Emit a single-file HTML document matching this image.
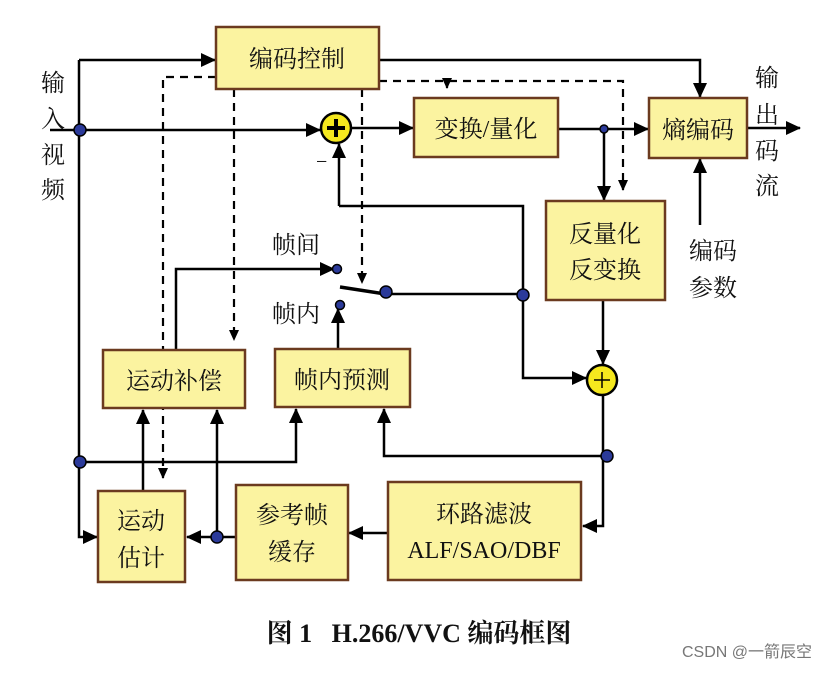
<!DOCTYPE html>
<html><head><meta charset="utf-8"><style>
html,body{margin:0;padding:0;background:#fff;}
svg text{font-family:"Liberation Serif","Noto Serif CJK SC","Noto Sans CJK SC",serif;fill:#111;}
</style></head><body>
<svg width="828" height="670" viewBox="0 0 828 670" xmlns="http://www.w3.org/2000/svg">
<defs>
<marker id="a" markerWidth="16" markerHeight="16" refX="14" refY="7" orient="auto" markerUnits="userSpaceOnUse">
<path d="M0,0 L15,7 L0,14 Z" fill="#000"/></marker>
<marker id="s" markerWidth="12" markerHeight="12" refX="10" refY="5" orient="auto" markerUnits="userSpaceOnUse">
<path d="M0,0 L11,5 L0,10 Z" fill="#000"/></marker>
</defs>
<g stroke="#000" stroke-width="2.5" fill="none">
<!-- dashed -->
<g stroke-dasharray="8,6" stroke-width="2.2">
<path d="M216,77 H163 V478" marker-end="url(#s)"/>
<path d="M234,89 V340" marker-end="url(#s)"/>
<path d="M362,89 V283" marker-end="url(#s)"/>
<path d="M379,81 H623 V190" marker-end="url(#s)"/>
<path d="M447,81 V88" stroke-dasharray="none" marker-end="url(#s)"/>
</g>
<!-- solid -->
<path d="M79,60 V537 H97" marker-end="url(#a)"/>
<path d="M79,60 H215" marker-end="url(#a)"/>
<path d="M50,130 H320" marker-end="url(#a)"/>
<path d="M351,128 H413" marker-end="url(#a)"/>
<path d="M379,60 H700 V97" marker-end="url(#a)"/>
<path d="M558,129 H648" marker-end="url(#a)"/>
<path d="M604,129 V200" marker-end="url(#a)"/>
<path d="M748,128 H800" marker-end="url(#a)"/>
<path d="M700,225 V159" marker-end="url(#a)"/>
<path d="M339,206 V144" marker-end="url(#a)"/>
<path d="M339,206 H523 V378 H586" marker-end="url(#a)"/>
<path d="M385,294 H523"/>
<path d="M340,287 L385,294" stroke-width="3.5"/>
<path d="M603,300 V364" marker-end="url(#a)"/>
<path d="M603,395 V526 H583" marker-end="url(#a)"/>
<path d="M388,533 H349" marker-end="url(#a)"/>
<path d="M236,537 H187" marker-end="url(#a)"/>
<path d="M217,537 V410" marker-end="url(#a)"/>
<path d="M143,491 V410" marker-end="url(#a)"/>
<path d="M79,462 H296 V409" marker-end="url(#a)"/>
<path d="M607,456 H384 V409" marker-end="url(#a)"/>
<path d="M176,350 V269 H334" marker-end="url(#a)"/>
<path d="M338,348 V309" marker-end="url(#a)"/>
</g>
<!-- boxes -->
<g fill="#fbf3a0" stroke="#6b3a1f" stroke-width="2.5">
<rect x="216" y="27" width="163" height="62"/>
<rect x="414" y="98" width="144" height="59"/>
<rect x="649" y="98" width="98" height="60"/>
<rect x="546" y="201" width="119" height="99"/>
<rect x="103" y="350" width="142" height="58"/>
<rect x="275" y="349" width="135" height="58"/>
<rect x="98" y="491" width="87" height="91"/>
<rect x="236" y="485" width="112" height="95"/>
<rect x="388" y="482" width="193" height="98"/>
</g>
<!-- adders -->
<circle cx="336" cy="128" r="15" fill="#f5e81e" stroke="#000" stroke-width="2.5"/>
<path d="M327,128 H345 M336,119 V137" stroke="#000" stroke-width="4"/>
<circle cx="602" cy="380" r="15" fill="#f5e81e" stroke="#000" stroke-width="2.5"/>
<path d="M594,380 H610 M602,372 V388" stroke="#000" stroke-width="1.5"/>
<!-- dots -->
<g fill="#2b3a9a" stroke="#000" stroke-width="1.5">
<circle cx="80" cy="130" r="6"/>
<circle cx="80" cy="462" r="6"/>
<circle cx="604" cy="129" r="4"/>
<circle cx="337" cy="269" r="4.5"/>
<circle cx="340" cy="305" r="4.5"/>
<circle cx="386" cy="292" r="6"/>
<circle cx="523" cy="295" r="6"/>
<circle cx="607" cy="456" r="6"/>
<circle cx="217" cy="537" r="6"/>
</g>
<!-- labels -->
<g font-size="24" text-anchor="middle">
<text x="297" y="67">编码控制</text>
<text x="486" y="137">变换/量化</text>
<text x="698" y="138">熵编码</text>
<text x="605" y="242">反量化</text>
<text x="605" y="278">反变换</text>
<text x="174" y="389">运动补偿</text>
<text x="342" y="388">帧内预测</text>
<text x="141" y="529">运动</text>
<text x="141" y="566">估计</text>
<text x="292" y="523">参考帧</text>
<text x="292" y="560">缓存</text>
<text x="484" y="522">环路滤波</text>
<text x="484" y="558">ALF/SAO/DBF</text>
<text x="53" y="91">输</text>
<text x="53" y="127">入</text>
<text x="53" y="163">视</text>
<text x="53" y="198">频</text>
<text x="767" y="86">输</text>
<text x="767" y="123">出</text>
<text x="767" y="159">码</text>
<text x="767" y="194">流</text>
<text x="713" y="259">编码</text>
<text x="713" y="296">参数</text>
<text x="296" y="253">帧间</text>
<text x="296" y="322">帧内</text>
</g>
<text x="316" y="168" font-size="20">−</text>
<text x="419" y="642" font-size="26" font-weight="bold" text-anchor="middle">图 1 &#160;&#160;H.266/VVC 编码框图</text>
<text x="812" y="657" font-size="16" text-anchor="end" style="font-family:'Liberation Sans','Noto Sans CJK SC',sans-serif;fill:#777">CSDN @一箭辰空</text>
</svg>
</body></html>
